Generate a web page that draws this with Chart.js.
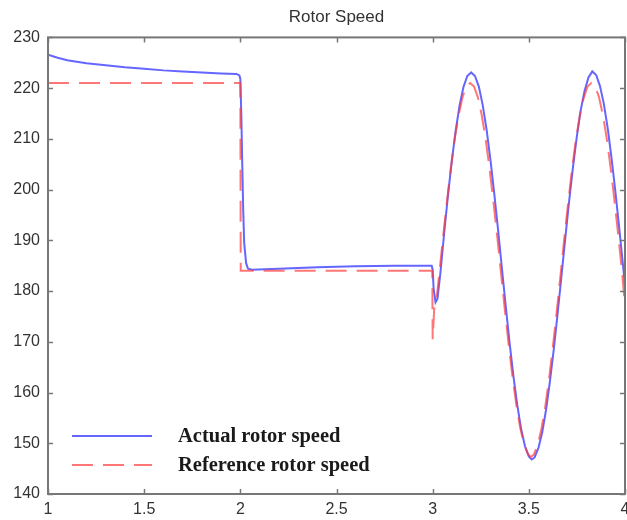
<!DOCTYPE html>
<html>
<head>
<meta charset="utf-8">
<title>Rotor Speed</title>
<script src="https://cdn.jsdelivr.net/npm/chart.js@4.4.1/dist/chart.umd.min.js"></script>
<style>
  html, body { margin: 0; padding: 0; background: #fff; }
  #wrap { width: 627px; height: 520px; }
</style>
</head>
<body>
<div id="wrap"><canvas id="chart" width="627" height="520"></canvas></div>
<script>
"use strict";

const TITLE = "Rotor Speed";
const SERIES_LABELS = ["Actual rotor speed", "Reference rotor speed"];
const X_TICKS = [1, 1.5, 2, 2.5, 3, 3.5, 4];
const Y_TICKS = [140, 150, 160, 170, 180, 190, 200, 210, 220, 230];

// actual rotor speed
const actualTime = [
  1.00, 1.05, 1.10, 1.20, 1.30, 1.40, 1.50, 1.60, 1.70, 1.80, 1.90, 1.98, 1.995,
  2.00, 2.005, 2.01, 2.015, 2.02, 2.03, 2.04, 2.06, 2.20, 2.40, 2.60, 2.80, 2.995,
  3.00, 3.005, 3.015, 3.025, 3.04, 3.06, 3.08, 3.10, 3.12, 3.14, 3.16, 3.18,
  3.20, 3.22, 3.24, 3.26, 3.28, 3.30, 3.32, 3.34, 3.36, 3.38, 3.40, 3.42, 3.44,
  3.46, 3.48, 3.50, 3.515, 3.53, 3.55, 3.57, 3.59, 3.61, 3.63, 3.65, 3.67, 3.69,
  3.71, 3.73, 3.75, 3.77, 3.79, 3.81, 3.83, 3.85, 3.87, 3.89, 3.91, 3.93, 3.95,
  3.97, 3.99, 4.00,
];
const actualSpeed = [
  226.6, 226.0, 225.5, 224.9, 224.5, 224.1, 223.8, 223.5, 223.3, 223.1, 222.9, 222.8, 222.5,
  221.8, 215.0, 205.0, 196.0, 189.5, 185.5, 184.4, 184.2, 184.4, 184.7, 184.9, 185.0, 185.0,
  184.2, 180.5, 177.8, 178.5, 183.5, 191.5, 199.0, 205.8, 211.7, 216.6, 220.2, 222.4,
  223.1, 222.4, 220.3, 216.7, 211.9, 206.0, 199.3, 192.1, 184.5, 177.0, 169.8, 163.2, 157.5,
  152.8, 149.4, 147.4, 146.8, 147.2, 149.1, 152.2, 156.7, 162.3, 168.6, 175.7, 183.1, 190.6,
  197.9, 204.6, 210.6, 215.7, 219.5, 222.1, 223.3, 222.6, 220.4, 216.9, 212.1, 206.2, 199.6,
  192.4, 184.9, 181.0,
];

// reference rotor speed
const refTime = [
  1.00, 1.50, 2.00, 2.002, 2.50, 2.998, 3.00, 3.008, 3.02, 3.035, 3.055, 3.075,
  3.095, 3.115, 3.135, 3.155, 3.175, 3.195, 3.215, 3.235, 3.255, 3.275, 3.295,
  3.315, 3.335, 3.355, 3.375, 3.395, 3.415, 3.435, 3.455, 3.475, 3.495, 3.51,
  3.525, 3.545, 3.565, 3.585, 3.605, 3.625, 3.645, 3.665, 3.685, 3.705, 3.725,
  3.745, 3.765, 3.785, 3.805, 3.825, 3.845, 3.865, 3.885, 3.905, 3.925, 3.945,
  3.965, 3.985, 4.00,
];
const refSpeed = [
  221.0, 221.0, 221.0, 184.0, 184.0, 184.0, 170.5, 176.5, 178.3, 183.7, 191.0, 197.9,
  204.4, 210.1, 214.7, 218.2, 220.3, 221.0, 220.3, 218.2, 214.7, 210.1, 204.4,
  197.9, 191.0, 183.7, 176.4, 169.5, 163.1, 157.6, 153.1, 149.8, 147.9, 147.3,
  147.7, 149.5, 152.7, 157.1, 162.6, 169.0, 175.9, 183.2, 190.6, 197.6, 204.1,
  209.9, 214.6, 218.0, 220.3, 221.0, 220.3, 218.2, 214.7, 210.1, 204.4, 197.9,
  191.0, 183.7, 177.0,
];

const BLUE = "rgba(50, 50, 255, 0.75)";
const RED = "rgba(255, 60, 60, 0.7)";
const DASH = [21, 10];
const AXIS_COLOR = "#777";
const TEXT_COLOR = "#333";

function toPoints(xs, ys) {
  return xs.map((x, i) => ({ x: x, y: ys[i] }));
}

// MATLAB 風の枠と内向きの目盛り
const boxPlugin = {
  id: "box",
  afterDraw(chart) {
    const { ctx, chartArea: a, scales } = chart;
    ctx.save();
    ctx.strokeStyle = AXIS_COLOR;
    ctx.lineWidth = 1.5;
    const len = 5;
    ctx.beginPath();
    X_TICKS.forEach((v) => {
      const px = Math.round(scales.x.getPixelForValue(v)) + 0.5;
      ctx.moveTo(px, a.bottom); ctx.lineTo(px, a.bottom - len);
      ctx.moveTo(px, a.top); ctx.lineTo(px, a.top + len);
    });
    Y_TICKS.forEach((v) => {
      const py = Math.round(scales.y.getPixelForValue(v)) + 0.5;
      ctx.moveTo(a.left, py); ctx.lineTo(a.left + len, py);
      ctx.moveTo(a.right, py); ctx.lineTo(a.right - len, py);
    });
    ctx.stroke();
    ctx.lineWidth = 2;
    ctx.strokeRect(a.left, a.top, a.right - a.left, a.bottom - a.top);
    ctx.restore();
  },
};

// 凡例（プロット内左下）
const legendPlugin = {
  id: "insideLegend",
  afterDatasetsDraw(chart) {
    const { ctx, chartArea: a } = chart;
    const rows = [
      { y: 436, color: BLUE, dash: [] },
      { y: 465, color: RED, dash: DASH },
    ];
    ctx.save();
    rows.forEach((r, i) => {
      const ds = chart.data.datasets[i];
      ctx.strokeStyle = r.color;
      ctx.lineWidth = 2;
      ctx.setLineDash(r.dash);
      ctx.beginPath();
      ctx.moveTo(a.left + 24, r.y);
      ctx.lineTo(a.left + 104, r.y);
      ctx.stroke();
      ctx.setLineDash([]);
      ctx.fillStyle = "#1a1a1a";
      ctx.font = "bold 20.5px 'Liberation Serif', 'DejaVu Serif', serif";
      ctx.textBaseline = "middle";
      ctx.textAlign = "left";
      ctx.fillText(ds.label, a.left + 130, r.y + 1);
    });
    ctx.restore();
  },
};

new Chart(document.getElementById("chart"), {
  type: "line",
  data: {
    datasets: [
      {
        label: SERIES_LABELS[0],
        data: toPoints(actualTime, actualSpeed),
        borderColor: BLUE,
        borderWidth: 2,
        pointRadius: 0,
        tension: 0,
        order: 2,
      },
      {
        label: SERIES_LABELS[1],
        data: toPoints(refTime, refSpeed),
        borderColor: RED,
        borderWidth: 2,
        borderDash: DASH,
        pointRadius: 0,
        tension: 0,
        order: 1,
      },
    ],
  },
  options: {
    responsive: false,
    animation: false,
    layout: { padding: { left: 0, right: 2, top: 0, bottom: 0 } },
    plugins: {
      legend: { display: false },
      tooltip: { enabled: false },
      title: {
        display: true,
        text: TITLE,
        fullSize: false,
        color: TEXT_COLOR,
        font: { family: "'Liberation Sans', Arial, sans-serif", size: 17, weight: "normal" },
        padding: { top: 7, bottom: 10 },
      },
    },
    scales: {
      x: {
        type: "linear",
        min: 1,
        max: 4,
        grid: { display: false, drawTicks: false },
        border: { display: false },
        afterBuildTicks: (s) => { s.ticks = X_TICKS.map((v) => ({ value: v })); },
        afterFit: (s) => { s.height = 26; s.paddingLeft = 0; s.paddingRight = 0; },
        ticks: {
          padding: 6,
          maxRotation: 0,
          autoSkip: false,
          color: TEXT_COLOR,
          font: { family: "'Liberation Sans', Arial, sans-serif", size: 16 },
          callback: (v) => String(Math.round(v * 10) / 10),
        },
      },
      y: {
        min: 140,
        max: 230,
        grid: { display: false, drawTicks: false },
        border: { display: false },
        afterBuildTicks: (s) => { s.ticks = Y_TICKS.map((v) => ({ value: v })); },
        afterFit: (s) => { s.width = 48; s.paddingTop = 0; s.paddingBottom = 0; },
        ticks: {
          padding: 8,
          autoSkip: false,
          color: TEXT_COLOR,
          font: { family: "'Liberation Sans', Arial, sans-serif", size: 16 },
          callback: (v) => String(v),
        },
      },
    },
  },
  plugins: [boxPlugin, legendPlugin],
});
</script>
</body>
</html>
